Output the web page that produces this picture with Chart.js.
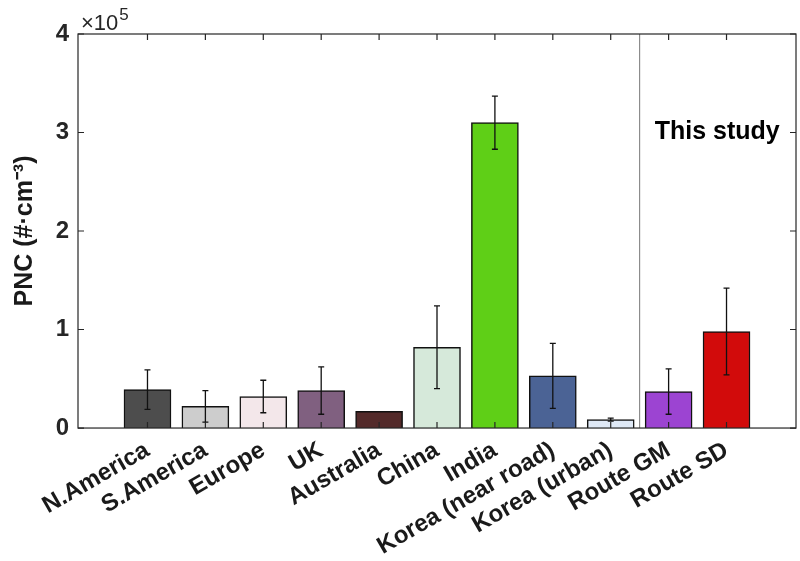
<!DOCTYPE html>
<html lang="en">
<head>
    <meta charset="UTF-8">
    <title>PNC comparison</title>
    <script src="https://cdn.jsdelivr.net/npm/chart.js"></script>
    <style>
        body { margin: 0; background: #fff; }
    </style>
</head>
<body>
    <canvas id="pncChart" width="800" height="561"></canvas>
    <script>
        // data (PNC in #/cm3)
        const regions = ['N.America', 'S.America', 'Europe', 'UK', 'Australia', 'China', 'India',
            'Korea (near road)', 'Korea (urban)', 'Route GM', 'Route SD'];
        const pncMean = [39000, 22000, 32000, 38000, 17000, 82000, 310000, 53000, 8500, 37000, 98000];
        const pncErr = [20000, 16000, 16500, 24000, 0, 42000, 27000, 33000, 1500, 23000, 44000];
        const barColors = ['#4d4d4d', '#cdcdcd', '#f3e7ea', '#806080', '#532a2a', '#d6e9da', '#5fcf17',
            '#4b6395', '#dfe9f6', '#9c44d2', '#d20b0b'];
        const yTicks = [0, 100000, 200000, 300000, 400000];

        const AXIS = '#262626';
        const FONT = '"Liberation Sans", Arial, sans-serif';

        // box + inward ticks, matlab style
        const framePlugin = {
            id: 'frame',
            afterDatasetsDraw(chart) {
                const ctx = chart.ctx;
                const a = chart.chartArea;
                const xs = chart.scales.x;
                const ys = chart.scales.y;
                ctx.save();

                // error bars
                ctx.strokeStyle = '#111';
                ctx.lineWidth = 1.3;
                pncMean.forEach((m, i) => {
                    const e = pncErr[i];
                    if (!e) return;
                    const px = xs.getPixelForValue(i + 1);
                    const top = ys.getPixelForValue(m + e);
                    const bot = ys.getPixelForValue(m - e);
                    ctx.beginPath();
                    ctx.moveTo(px, top); ctx.lineTo(px, bot);
                    ctx.moveTo(px - 3, top); ctx.lineTo(px + 3, top);
                    ctx.moveTo(px - 3, bot); ctx.lineTo(px + 3, bot);
                    ctx.stroke();
                });

                // separator for this study
                const sx = xs.getPixelForValue(9.5);
                ctx.strokeStyle = '#777';
                ctx.lineWidth = 1;
                ctx.beginPath();
                ctx.moveTo(sx, a.top); ctx.lineTo(sx, a.bottom);
                ctx.stroke();

                ctx.fillStyle = '#000';
                ctx.font = 'bold 25px ' + FONT;
                ctx.textAlign = 'center';
                ctx.textBaseline = 'middle';
                ctx.fillText('This study', xs.getPixelForValue(10.84), ys.getPixelForValue(300000));

                // frame
                ctx.strokeStyle = AXIS;
                ctx.lineWidth = 1.2;
                ctx.strokeRect(a.left, a.top, a.right - a.left, a.bottom - a.top);
                ctx.beginPath();
                yTicks.forEach(v => {
                    const py = ys.getPixelForValue(v);
                    ctx.moveTo(a.left, py); ctx.lineTo(a.left + 6, py);
                    ctx.moveTo(a.right, py); ctx.lineTo(a.right - 6, py);
                });
                regions.forEach((r, i) => {
                    const px = xs.getPixelForValue(i + 1);
                    ctx.moveTo(px, a.bottom); ctx.lineTo(px, a.bottom - 6);
                    ctx.moveTo(px, a.top); ctx.lineTo(px, a.top + 6);
                });
                ctx.stroke();

                // exponent label
                ctx.fillStyle = '#262626';
                ctx.textAlign = 'left';
                ctx.textBaseline = 'alphabetic';
                ctx.font = '22px ' + FONT;
                ctx.fillText('\u00d710', a.left + 3, a.top - 4);
                const w = ctx.measureText('\u00d710').width;
                ctx.font = '17px ' + FONT;
                ctx.fillText('5', a.left + 3 + w + 1, a.top - 14);
                ctx.restore();
            }
        };

        const ctx = document.getElementById('pncChart').getContext('2d');
        new Chart(ctx, {
            type: 'bar',
            data: {
                datasets: [{
                    data: pncMean.map((v, i) => ({ x: i + 1, y: v })),
                    backgroundColor: barColors,
                    borderColor: '#111',
                    borderWidth: 1.5,
                    barThickness: 47
                }]
            },
            options: {
                responsive: false,
                animation: false,
                layout: { padding: { top: 34, right: 4, left: 10, bottom: 0 } },
                plugins: {
                    legend: { display: false },
                    tooltip: { enabled: false }
                },
                scales: {
                    x: {
                        type: 'linear',
                        offset: false,
                        min: -0.2,
                        max: 12.2,
                        grid: { display: false, offset: false },
                        border: { display: false },
                        afterBuildTicks: axis => {
                            axis.ticks = regions.map((r, i) => ({ value: i + 1 }));
                        },
                        // rotated labels should not push the plot area
                        afterFit: axis => {
                            axis.paddingLeft = 0;
                            axis.paddingRight = 0;
                        },
                        ticks: {
                            autoSkip: false,
                            minRotation: 30,
                            maxRotation: 30,
                            padding: 0,
                            color: '#1a1a1a',
                            font: { family: FONT, size: 24, weight: 'bold' },
                            callback: v => regions[v - 1]
                        }
                    },
                    y: {
                        min: 0,
                        max: 400000,
                        grid: { display: false, drawTicks: false },
                        border: { display: false },
                        afterBuildTicks: axis => {
                            axis.ticks = yTicks.map(v => ({ value: v }));
                        },
                        afterFit: axis => {
                            axis.width = 68;
                        },
                        ticks: {
                            padding: 9,
                            color: '#262626',
                            font: { family: FONT, size: 24, weight: 'bold' },
                            callback: v => v / 100000
                        },
                        title: {
                            display: true,
                            text: 'PNC (#\u00b7cm\u207b\u00b3)',
                            color: '#1a1a1a',
                            padding: { top: 0, bottom: 16 },
                            font: { family: FONT, size: 25, weight: 'bold' }
                        }
                    }
                }
            },
            plugins: [framePlugin]
        });
    </script>
</body>
</html>
